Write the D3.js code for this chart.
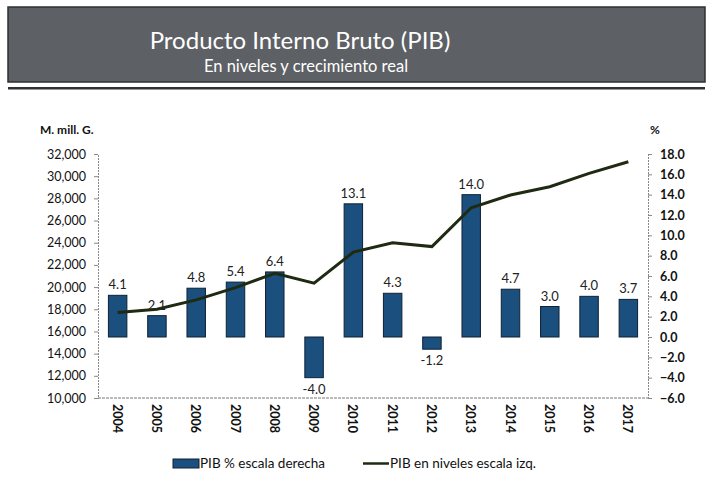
<!DOCTYPE html>
<html>
<head>
<meta charset="utf-8">
<script src="https://cdn.jsdelivr.net/npm/d3@7"></script>
<style>
  body { margin: 0; background: #fff; }
  svg text { font-family: "Lato", "Open Sans", sans-serif; }
</style>
</head>
<body>
<svg id="chart" width="713" height="479"></svg>
<script>
// data
var years = ["2004","2005","2006","2007","2008","2009","2010","2011","2012","2013","2014","2015","2016","2017"];
var growth = [4.1, 2.1, 4.8, 5.4, 6.4, -4.0, 13.1, 4.3, -1.2, 14.0, 4.7, 3.0, 4.0, 3.7];
var levels = [17700, 18000, 18850, 19950, 21250, 20350, 23150, 24000, 23650, 27150, 28300, 29050, 30250, 31300];
var leftTicks = [10000, 12000, 14000, 16000, 18000, 20000, 22000, 24000, 26000, 28000, 30000, 32000];
var rightTicks = [-6, -4, -2, 0, 2, 4, 6, 8, 10, 12, 14, 16, 18];

var svg = d3.select("#chart");
var m = { left: 98, right: 648, top: 154, bottom: 398 };

// header band
svg.append("rect").attr("x", 8).attr("y", 7).attr("width", 697).attr("height", 75)
    .attr("fill", "#5d6064").attr("stroke", "#2e3033").attr("stroke-width", 1.5);
svg.append("rect").attr("x", 8).attr("y", 87).attr("width", 697).attr("height", 2.5).attr("fill", "#2e3033");
svg.append("text").attr("x", 300).attr("y", 49).attr("text-anchor", "middle")
    .attr("fill", "#fff").attr("font-size", 24).text("Producto Interno Bruto (PIB)");
svg.append("text").attr("x", 306).attr("y", 72).attr("text-anchor", "middle")
    .attr("fill", "#fff").attr("font-size", 16.5).text("En niveles y crecimiento real");

// scales
var x = d3.scaleBand().domain(years).range([m.left, m.right]).paddingInner(0.53).paddingOuter(0.265);
var yL = d3.scaleLinear().domain([10000, 32000]).range([m.bottom, m.top]);
var yR = d3.scaleLinear().domain([-6, 18]).range([m.bottom, m.top]);

// axes
var leftAxis = d3.axisLeft(yL).tickValues(leftTicks).tickSize(4).tickPadding(8)
    .tickFormat(d3.format(",d"));
var gl = svg.append("g").attr("transform", "translate(" + m.left + ",0)").call(leftAxis);
var rightAxis = d3.axisRight(yR).tickValues(rightTicks).tickSize(4).tickPadding(8)
    .tickFormat(d3.format(".1f"));
var gr = svg.append("g").attr("transform", "translate(" + m.right + ",0)").call(rightAxis);
[gl, gr].forEach(function (g) {
    g.select(".domain").attr("stroke", "#888").attr("stroke-dasharray", "2,1");
    g.selectAll(".tick line").attr("stroke", "#888");
    g.selectAll("text").attr("font-size", 12.5).attr("fill", "#111")
        .style("font-family", "Lato, sans-serif");
});
gr.selectAll("text").attr("font-weight", "bold");

svg.append("line").attr("x1", m.left).attr("x2", m.right).attr("y1", m.bottom).attr("y2", m.bottom)
    .attr("stroke", "#777").attr("stroke-dasharray", "3,1");

svg.append("text").attr("x", 40).attr("y", 134).attr("font-size", 12).attr("font-weight", "bold")
    .attr("fill", "#111").text("M. mill. G.");
svg.append("text").attr("x", 650).attr("y", 134).attr("font-size", 12).attr("font-weight", "bold")
    .attr("fill", "#111").text("%");

// year labels, rotated
svg.selectAll(".yr").data(years).enter().append("text")
    .attr("transform", function (d) {
        return "translate(" + (x(d) + x.bandwidth() / 2 - 5) + ",404) rotate(90)";
    })
    .attr("font-size", 12.5).attr("font-weight", "bold").attr("fill", "#111").text(function (d) { return d; });

// bars
svg.selectAll(".bar").data(growth).enter().append("rect")
    .attr("x", function (d, i) { return x(years[i]); })
    .attr("width", x.bandwidth())
    .attr("y", function (d) { return yR(Math.max(0, d)); })
    .attr("height", function (d) { return Math.abs(yR(d) - yR(0)); })
    .attr("fill", "#1b4f7e").attr("stroke", "#0d2236").attr("stroke-width", 1);

svg.selectAll(".lbl").data(growth).enter().append("text")
    .attr("x", function (d, i) { return x(years[i]) + x.bandwidth() / 2; })
    .attr("y", function (d) { return d >= 0 ? yR(d) - 6 : yR(d) + 16; })
    .attr("text-anchor", "middle").attr("font-size", 13).attr("fill", "#222")
    .text(function (d) { return d.toFixed(1); });

// levels line
var line = d3.line()
    .x(function (d, i) { return x(years[i]) + x.bandwidth() / 2; })
    .y(function (d) { return yL(d); });
svg.append("path").datum(levels).attr("d", line)
    .attr("fill", "none").attr("stroke", "#1f2a12").attr("stroke-width", 3);

// legend
svg.append("rect").attr("x", 173).attr("y", 459).attr("width", 26).attr("height", 9)
    .attr("fill", "#1b4f7e").attr("stroke", "#0d2236");
svg.append("text").attr("x", 200).attr("y", 468).attr("font-size", 13.5).attr("fill", "#111")
    .text("PIB % escala derecha");
svg.append("line").attr("x1", 363).attr("x2", 389).attr("y1", 463.5).attr("y2", 463.5)
    .attr("stroke", "#1f2a12").attr("stroke-width", 2.5);
svg.append("text").attr("x", 390).attr("y", 468).attr("font-size", 13.5).attr("fill", "#111")
    .text("PIB en niveles escala izq.");
</script>
</body>
</html>
